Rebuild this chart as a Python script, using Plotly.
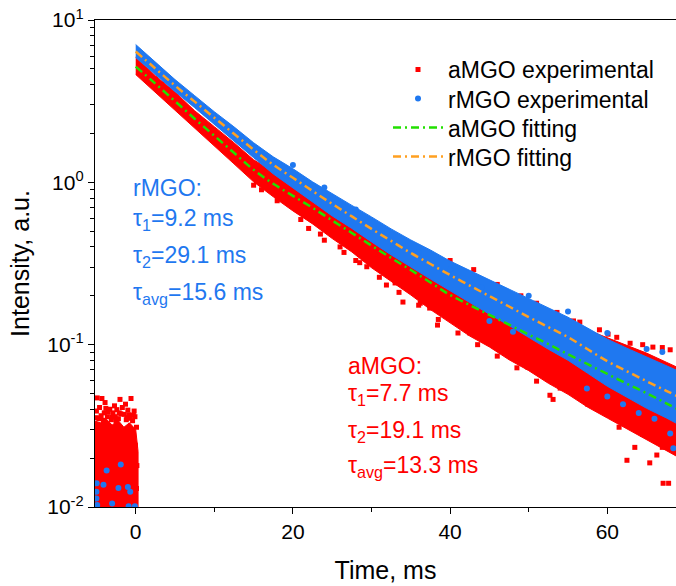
import plotly.graph_objects as go

# ---------------- data (time in ms, intensity in a.u.) ----------------
t_grid = [0, 2.5, 5, 7.5, 10, 12.5, 15, 17.5, 20, 22.5, 25, 27.5, 30, 32.5, 35,
          37.5, 40, 42.5, 45, 47.5, 50, 52.5, 55, 57.5, 60, 62.5, 65, 67.5, 70]

# bi-exponential fitting curves, log10(intensity)
amgo_fit_log = [0.713, 0.608, 0.500, 0.392, 0.287, 0.182, 0.077, -0.009, -0.083,
                -0.157, -0.235, -0.312, -0.390, -0.466, -0.540, -0.617, -0.694,
                -0.756, -0.816, -0.877, -0.938, -0.997, -1.059, -1.120, -1.180,
                -1.241, -1.299, -1.361, -1.423]
rmgo_fit_log = [0.806, 0.701, 0.596, 0.497, 0.398, 0.299, 0.201, 0.108, 0.028,
                -0.053, -0.133, -0.210, -0.287, -0.361, -0.435, -0.503, -0.571,
                -0.636, -0.701, -0.765, -0.830, -0.892, -0.954, -1.028, -1.102,
                -1.164, -1.225, -1.284, -1.343]

# spread of the dense experimental cloud above / below the fit (decades)
amgo_up = [0.056, 0.049, 0.056, 0.049, 0.056, 0.062, 0.062, 0.074, 0.074, 0.086,
           0.086, 0.099, 0.099, 0.111, 0.111, 0.130, 0.123, 0.148, 0.148, 0.167,
           0.173, 0.191, 0.198, 0.210, 0.222, 0.235, 0.247, 0.253, 0.259]
amgo_dn = [0.049, 0.056, 0.056, 0.062, 0.062, 0.068, 0.074, 0.080, 0.093, 0.099,
           0.111, 0.117, 0.136, 0.142, 0.154, 0.167, 0.173, 0.191, 0.198, 0.216,
           0.222, 0.241, 0.247, 0.265, 0.272, 0.278, 0.284, 0.290, 0.296]
rmgo_up = [0.043, 0.037, 0.037, 0.037, 0.037, 0.043, 0.043, 0.049, 0.056, 0.056,
           0.062, 0.068, 0.074, 0.074, 0.080, 0.086, 0.086, 0.093, 0.099, 0.105,
           0.111, 0.117, 0.123, 0.130, 0.136, 0.142, 0.148, 0.154, 0.160]
rmgo_dn = [0.037, 0.037, 0.037, 0.037, 0.037, 0.043, 0.049, 0.056, 0.062, 0.068,
           0.074, 0.074, 0.080, 0.086, 0.086, 0.093, 0.099, 0.105, 0.111, 0.117,
           0.123, 0.136, 0.142, 0.148, 0.154, 0.160, 0.167, 0.167, 0.173]

# individual points standing out of the dense cloud
amgo_pts_t = [15, 16, 18, 21, 23.5, 26, 28.5, 31, 33.5, 36, 38.5, 41, 43.5, 46, 48.5,
              22, 24, 26.5, 28, 29.4, 31.9, 33, 34, 36.2, 37.4, 39, 38.4, 41, 42.5,
              44, 46, 47.5, 48.9, 49.9, 51, 52.7, 53.1, 54, 55.2, 56.5, 57.5, 58.7,
              60.7, 61.5, 62.5, 63.5, 64.5, 65.4, 66.3, 67.1, 67.8, 67, 68.2,
              40, 43, 46, 49, 51, 53.6, 55.7, 56.5, 59, 60.1, 61.2, 62.9, 64.5,
              65.8, 67, 68]
amgo_pts_v = [0.96, 0.90, 0.77, 0.59, 0.48, 0.40, 0.32, 0.26, 0.21, 0.175, 0.143,
              0.118, 0.10, 0.085, 0.072,
              0.52, 0.44, 0.37, 0.33, 0.302, 0.233, 0.24, 0.183, 0.18, 0.168, 0.157,
              0.132, 0.14, 0.118, 0.112, 0.098, 0.092, 0.085, 0.0726, 0.0596, 0.0488,
              0.046, 0.054, 0.052, 0.047, 0.043, 0.0424, 0.0357, 0.031, 0.0194, 0.0233,
              0.028, 0.0187, 0.0209, 0.014, 0.014, 0.0233, 0.026,
              0.33, 0.29, 0.235, 0.2, 0.18, 0.158, 0.14, 0.1377, 0.1235, 0.116, 0.111,
              0.102, 0.1, 0.0966, 0.096, 0.093]

rmgo_pts_t = [20, 24, 28, 32, 36, 40, 44, 57.4, 60, 62, 64, 66, 68, 68.4,
              50, 55, 60, 65, 45, 48, 67]
rmgo_pts_v = [1.28, 0.93, 0.68, 0.50, 0.37, 0.29, 0.225, 0.0537, 0.048, 0.043,
              0.038, 0.035, 0.0284, 0.023, 0.2, 0.16, 0.118, 0.094, 0.14, 0.12, 0.09]

# background before the excitation pulse (t < 0)
t_pre = [-5.3, -4.5, -3.8, -3.0, -2.2, -1.5, -0.8, 0.0, 0.3]
amgo_pre_hi = [0.034, 0.033, 0.035, 0.032, 0.034, 0.031, 0.033, 0.030, 0.022]
amgo_pre_lo = [0.009] * len(t_pre)

amgo_pre_t = [-4.9, -4.3, -2.0, -0.6, -4.6, -3.3, -2.4, -1.3, -0.2, -3.9, -2.9, -1.7,
              -0.9, -4.0, -5.0, -3.6, -2.2, -1.1, -0.4, -4.7, -2.7, -1.9, -3.1, 0.1,
              -0.05, 0.15, 0.1, -4.4, -3.5, -2.6, -1.5, -0.7, -0.1, -5.0, -4.1, -3.0,
              -2.1, -1.2, -0.3, -3.8, -2.5, -1.0]
amgo_pre_v = [0.047, 0.0466, 0.046, 0.0466, 0.041, 0.040, 0.0398, 0.043, 0.039, 0.044,
              0.038, 0.041, 0.037, 0.038, 0.039, 0.036, 0.035, 0.0355, 0.034, 0.035,
              0.042, 0.0375, 0.0345, 0.031, 0.024, 0.018, 0.013, 0.0365, 0.0385,
              0.036, 0.0372, 0.0352, 0.036, 0.0355, 0.0342, 0.0358, 0.038, 0.0345,
              0.0368, 0.0405, 0.0338, 0.0395]

rmgo_pre_t = [-4.97, -5.0, -4.9, -3.7, -1.9, -4.1, -2.2, -1.0, -0.7, -0.1, -0.9, -5.0, -3.0]
rmgo_pre_v = [0.014, 0.0113, 0.0103, 0.0168, 0.0183, 0.0137, 0.0131, 0.0133, 0.0124,
              0.0101, 0.0101, 0.0124, 0.0105]

series_names = ["aMGO experimental", "rMGO experimental", "aMGO fitting", "rMGO fitting"]
rmgo_labels = ["rMGO:", "τ<sub>1</sub>=9.2 ms", "τ<sub>2</sub>=29.1 ms", "τ<sub>avg</sub>=15.6 ms"]
amgo_labels = ["aMGO:", "τ<sub>1</sub>=7.7 ms", "τ<sub>2</sub>=19.1 ms", "τ<sub>avg</sub>=13.3 ms"]

# ---------------- styling ----------------
RED = "#ff0000"
BLUE = "#1f78f0"
GREEN = "#22e000"
ORANGE = "#ffa020"
FONT = "Liberation Sans, Arial, sans-serif"
DASH = "8px,4px,2px,4px"

amgo_fit = [10 ** v for v in amgo_fit_log]
rmgo_fit = [10 ** v for v in rmgo_fit_log]
amgo_hi = [10 ** (c + d) for c, d in zip(amgo_fit_log, amgo_up)]
amgo_lo = [10 ** (c - d) for c, d in zip(amgo_fit_log, amgo_dn)]
rmgo_hi = [10 ** (c + d) for c, d in zip(rmgo_fit_log, rmgo_up)]
rmgo_lo = [10 ** (c - d) for c, d in zip(rmgo_fit_log, rmgo_dn)]


def band(t, lo, hi, color):
    return go.Scatter(x=list(t) + list(t)[::-1], y=list(hi) + list(lo)[::-1],
                      fill="toself", fillcolor=color, mode="lines",
                      line=dict(color=color, width=1),
                      hoverinfo="skip", showlegend=False)


fig = go.Figure()

# aMGO cloud
fig.add_trace(band(t_grid, amgo_lo, amgo_hi, RED))
fig.add_trace(band(t_pre, amgo_pre_lo, amgo_pre_hi, RED))
fig.add_trace(go.Scatter(x=amgo_pts_t + amgo_pre_t, y=amgo_pts_v + amgo_pre_v,
                         mode="markers", name=series_names[0], legend="legend",
                         marker=dict(symbol="square", size=5, color=RED)))
# rMGO cloud
fig.add_trace(band(t_grid, rmgo_lo, rmgo_hi, BLUE))
fig.add_trace(go.Scatter(x=rmgo_pts_t + rmgo_pre_t, y=rmgo_pts_v + rmgo_pre_v,
                         mode="markers", name=series_names[1], legend="legend2",
                         marker=dict(symbol="circle", size=6, color=BLUE)))
# fits
fig.add_trace(go.Scatter(x=t_grid, y=amgo_fit, mode="lines", name=series_names[2],
                         legend="legend3",
                         line=dict(color=GREEN, width=2.5, dash=DASH, shape="spline")))
fig.add_trace(go.Scatter(x=t_grid, y=rmgo_fit, mode="lines", name=series_names[3],
                         legend="legend4",
                         line=dict(color=ORANGE, width=2.5, dash=DASH, shape="spline")))

# text blocks with fitted lifetimes
L, T, W, H = 95, 20.5, 581, 486.5


def add_block(lines, x_px, y_px, color):
    for txt, y in zip(lines, y_px):
        fig.add_annotation(text=txt, xref="paper", yref="paper",
                           x=(x_px - L) / W, y=1 - (y - T) / H,
                           xanchor="left", yanchor="middle", showarrow=False,
                           font=dict(size=23, color=color, family=FONT))


add_block(rmgo_labels, 131, [188, 220, 257, 294], BLUE)
add_block(amgo_labels, 346, [366, 395, 432, 467], RED)


def legend_at(y_px):
    return dict(x=(388 - L) / W, y=1 - (y_px - T) / H, xanchor="left",
                yanchor="middle", bgcolor="rgba(0,0,0,0)",
                font=dict(size=23, family=FONT, color="black"), itemwidth=50)


axis_common = dict(showline=True, linecolor="black", linewidth=1.3, ticks="outside",
                   tickcolor="black", tickwidth=1.3, showgrid=False, zeroline=False,
                   tickfont=dict(size=21, color="black", family=FONT))

fig.update_layout(
    width=676, height=586,
    margin=dict(l=95, r=0, t=20, b=79),
    plot_bgcolor="white", paper_bgcolor="white",
    font=dict(family=FONT, color="black"),
    showlegend=True,
    legend=legend_at(70), legend2=legend_at(99),
    legend3=legend_at(128), legend4=legend_at(157),
    xaxis=dict(range=[-5.18, 68.74], tickvals=[0, 20, 40, 60], ticklen=6,
               mirror=True,
               minor=dict(tickvals=[10, 30, 50], ticks="outside", ticklen=4,
                          tickcolor="black", tickwidth=1.3),
               title=dict(text="Time, ms", font=dict(size=25, family=FONT),
                          standoff=19),
               **axis_common),
    yaxis=dict(type="log", range=[-2, 1], tickvals=[0.01, 0.1, 1, 10],
               ticktext=["10<sup>-2</sup>", "10<sup>-1</sup>", "10<sup>0</sup>",
                         "10<sup>1</sup>"], ticklen=6,
               minor=dict(ticks="outside", ticklen=4, tickcolor="black",
                          tickwidth=1.3, dtick="D1"),
               title=dict(text="Intensity, a.u.", font=dict(size=25, family=FONT),
                          standoff=10),
               **axis_common),
)

fig.write_html("out.html")
